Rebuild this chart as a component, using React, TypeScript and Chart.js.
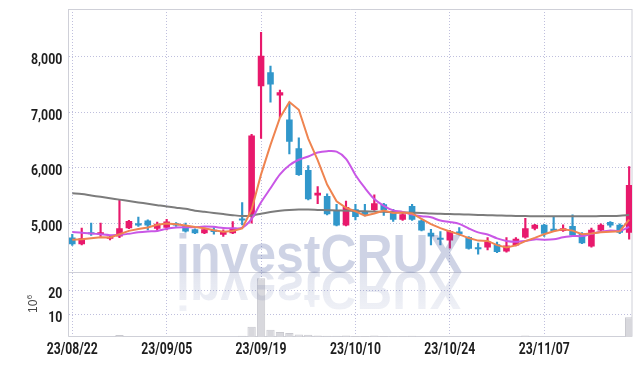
import React, { useEffect, useRef } from "react";
import { Chart, registerables } from "chart.js";

Chart.register(...registerables);

const dates = [
  "23/08/22", "23/08/23", "23/08/24", "23/08/25", "23/08/28", "23/08/29", "23/08/30", "23/08/31", "23/09/01", "23/09/04",
  "23/09/05", "23/09/06", "23/09/07", "23/09/08", "23/09/11", "23/09/12", "23/09/13", "23/09/14", "23/09/15", "23/09/18",
  "23/09/19", "23/09/20", "23/09/21", "23/09/22", "23/09/25", "23/09/26", "23/09/27", "23/10/04", "23/10/05", "23/10/06",
  "23/10/10", "23/10/11", "23/10/12", "23/10/13", "23/10/16", "23/10/17", "23/10/18", "23/10/19", "23/10/20", "23/10/23",
  "23/10/24", "23/10/25", "23/10/26", "23/10/27", "23/10/30", "23/10/31", "23/11/01", "23/11/02", "23/11/03", "23/11/06",
  "23/11/07", "23/11/08", "23/11/09", "23/11/10", "23/11/13", "23/11/14", "23/11/15", "23/11/16", "23/11/17", "23/11/20",
];

const opens = [
  4740, 4620, 4820, 4800, 4720, 4760, 4910, 5000, 5050, 4900,
  4920, 5000, 4960, 4890, 4820, 4880, 4790, 4820, 5075, 5120,
  7470, 7720, 7300, 6870, 6350, 5960, 5500, 5490, 5240, 4960,
  5250, 5210, 5240, 5340, 5210, 5060, 5310, 5050, 4830, 4720,
  4690, 4850, 4750, 4550, 4560, 4620, 4490, 4600, 4740, 4900,
  4970, 4900, 4860, 4950, 4810, 4580, 4870, 5020, 4970, 4830,
];
const highs = [
  4800, 4910, 5000, 5000, 4780, 5420, 5050, 5110, 5060, 5020,
  5070, 5010, 5000, 4900, 4910, 4920, 4880, 5030, 5370, 6600,
  8440, 7830, 7400, 7170, 6540, 6040, 5660, 5530, 5340, 5400,
  5340, 5340, 5510, 5360, 5250, 5180, 5340, 5060, 4890, 4850,
  4870, 4920, 4760, 4640, 4740, 4660, 4740, 4740, 5090, 4980,
  4980, 5110, 4970, 5150, 4830, 4910, 4990, 5030, 4990, 6020,
];
const lows = [
  4600, 4610, 4780, 4760, 4700, 4740, 4900, 4940, 4880, 4860,
  4880, 4940, 4840, 4810, 4810, 4800, 4760, 4810, 4970, 5000,
  6530, 7180, 6900, 6250, 5860, 5420, 5350, 5150, 4950, 4950,
  5060, 5130, 5230, 5140, 5030, 5050, 5050, 4860, 4610, 4610,
  4550, 4790, 4530, 4440, 4520, 4470, 4480, 4590, 4730, 4880,
  4760, 4850, 4850, 4770, 4630, 4570, 4860, 4930, 4810, 4710,
];
const closes = [
  4620, 4730, 4800, 4815, 4745, 4910, 5040, 4960, 4960, 4990,
  5030, 4960, 4850, 4820, 4890, 4840, 4840, 4910, 5050, 6580,
  8020, 7500, 7360, 6470, 5870, 5430, 5550, 5160, 4960, 5290,
  5110, 5150, 5360, 5240, 5060, 5160, 5060, 4870, 4760, 4700,
  4860, 4800, 4540, 4530, 4670, 4480, 4600, 4720, 4910, 4970,
  4810, 4860, 4910, 4780, 4640, 4880, 4970, 4960, 4830, 5690,
];

const ma5 = [
  4700, 4710, 4730, 4745, 4742, 4800, 4862, 4894, 4923, 4972,
  4996, 4980, 4958, 4930, 4910, 4872, 4848, 4860, 4906, 5244,
  5880, 6412, 6902, 7186, 7044, 6526, 6136, 5696, 5394, 5278,
  5214, 5134, 5174, 5230, 5184, 5194, 5176, 5078, 4982, 4910,
  4850, 4798, 4732, 4686, 4680, 4604, 4564, 4600, 4676, 4736,
  4802, 4854, 4892, 4866, 4800, 4814, 4836, 4846, 4856, 5066,
];
const ma10 = [
  4840, 4830, 4815, 4800, 4785, 4790, 4810, 4835, 4850, 4860,
  4900, 4921, 4926, 4927, 4941, 4934, 4914, 4909, 4918, 5077,
  5376, 5630, 5881, 6046, 6144, 6203, 6274, 6299, 6290, 6161,
  5870, 5635, 5435, 5312, 5231, 5204, 5155, 5126, 5106, 5047,
  5022, 4987, 4905, 4834, 4795, 4727, 4681, 4666, 4681, 4708,
  4703, 4709, 4746, 4771, 4768, 4808, 4845, 4869, 4861, 4933,
];
const maLong = [
  5540, 5525, 5500, 5475, 5450, 5425, 5400, 5375, 5350, 5325,
  5300, 5280, 5260, 5225, 5205, 5185, 5165, 5145, 5130, 5140,
  5170, 5200, 5225, 5240, 5245, 5245, 5240, 5235, 5230, 5225,
  5220, 5215, 5210, 5205, 5200, 5195, 5190, 5185, 5175, 5170,
  5165, 5160, 5155, 5150, 5145, 5140, 5135, 5130, 5128, 5125,
  5125, 5125, 5125, 5125, 5125, 5125, 5128, 5130, 5135, 5150,
];
const volumes = [
  0.4, 0.5, 0.3, 0.4, 0.3, 1.3, 0.6, 0.4, 0.4, 0.3,
  0.4, 0.3, 0.3, 0.3, 0.3, 0.3, 0.3, 0.4, 1.0, 4.8,
  25.0, 3.5, 2.6, 2.1, 1.5, 1.4, 1.1, 1.0, 1.0, 1.1,
  0.9, 0.9, 1.1, 0.9, 0.8, 0.8, 1.0, 0.7, 0.6, 0.5,
  0.6, 0.5, 0.6, 0.5, 0.5, 0.5, 0.5, 0.6, 1.1, 0.6,
  0.5, 0.6, 0.5, 0.5, 0.5, 0.6, 0.5, 0.5, 0.5, 8.7,
];

const xTicks = [0, 10, 20, 30, 40, 50];
const priceTicks = [5000, 6000, 7000, 8000];
const volumeTicks = [10, 20];

const RED = "#e8196c";
const BLUE = "#3197cb";
const ORANGE = "#ef8450";
const PURPLE = "#c957e6";
const GRAY = "#7c7c7c";
const GRID = "rgba(170,170,210,0.75)";
const FRAME = "#cfd0d8";
const LABEL_FONT = "'Roboto', 'Liberation Sans', sans-serif";

const fmt = (v: number) => v.toLocaleString("en-US");

const framePlugin = {
  id: "frame",
  beforeDatasetsDraw(chart: any) {
    const { ctx, chartArea } = chart;
    const sep = chart.scales.yv.top;
    ctx.save();
    ctx.strokeStyle = FRAME;
    ctx.lineWidth = 1;
    ctx.beginPath();
    ctx.moveTo(chartArea.left, chartArea.top + 0.5);
    ctx.lineTo(chartArea.right, chartArea.top + 0.5);
    ctx.moveTo(chartArea.left, chartArea.top);
    ctx.lineTo(chartArea.left, chartArea.bottom);
    ctx.moveTo(chartArea.right, chartArea.top);
    ctx.lineTo(chartArea.right, chartArea.bottom);
    ctx.moveTo(chartArea.left, Math.round(sep) + 0.5);
    ctx.lineTo(chartArea.right, Math.round(sep) + 0.5);
    ctx.moveTo(chartArea.left, Math.round(chartArea.bottom) - 0.5);
    ctx.lineTo(chartArea.right, Math.round(chartArea.bottom) - 0.5);
    ctx.stroke();
    ctx.restore();
  },
  afterDraw(chart: any) {
    const { ctx, scales } = chart;
    const drawText = (text: string, x: number, y: number, align: string, size: number, targetWidthRef: string, targetWidth: number) => {
      ctx.save();
      ctx.font = `bold ${size}px ${LABEL_FONT}`;
      const s = targetWidth / ctx.measureText(targetWidthRef).width;
      ctx.translate(x, y);
      ctx.scale(s, 1);
      ctx.textAlign = align;
      ctx.textBaseline = "alphabetic";
      ctx.fillStyle = "#1e1e1e";
      ctx.fillText(text, 0, 0);
      ctx.restore();
    };
    priceTicks.forEach((v) => {
      drawText(fmt(v), 62.3, scales.y.getPixelForValue(v) + 7.5, "right", 15, "8,000", 31.3);
    });
    volumeTicks.forEach((v) => {
      drawText(String(v), 62.3, scales.yv.getPixelForValue(v) + 7.5, "right", 15, "8,000", 31.3);
    });
    xTicks.forEach((v) => {
      drawText(dates[v], scales.x.getPixelForValue(v), 353.8, "center", 16.5, "23/08/22", 51);
    });

    ctx.save();
    ctx.fillStyle = "#444";
    ctx.translate(37, 313);
    ctx.rotate(-Math.PI / 2);
    ctx.textBaseline = "alphabetic";
    ctx.font = "12px 'Liberation Sans', sans-serif";
    ctx.fillText("10", 0, 0);
    const w = ctx.measureText("10").width;
    ctx.font = "8px 'Liberation Sans', sans-serif";
    ctx.fillText("6", w + 0.5, -5);
    ctx.restore();
  },
};

const watermarkPlugin = {
  id: "watermark",
  afterDatasetsDraw(chart: any) {
    const { ctx } = chart;
    const base = chart.scales.yv.top;
    const text = "investCRUX";
    ctx.save();
    ctx.font = "bold 54px 'Liberation Sans', Arial, sans-serif";
    const w = ctx.measureText(text).width;
    ctx.translate(176, base);
    ctx.scale(286 / w, 1);
    ctx.textBaseline = "alphabetic";
    ctx.fillStyle = "rgba(60,80,150,0.25)";
    ctx.fillText(text, 0, 0);
    ctx.scale(1, -1);
    const g = ctx.createLinearGradient(0, 0, 0, -44);
    g.addColorStop(0, "rgba(60,80,150,0.15)");
    g.addColorStop(1, "rgba(60,80,150,0.07)");
    ctx.fillStyle = g;
    ctx.fillText(text, 0, 0);
    ctx.restore();
  },
};

export default function App() {
  const ref = useRef<HTMLCanvasElement>(null);

  useEffect(() => {
    document.body.style.margin = "0";
    const canvas = ref.current!;
    const idx = dates.map((_, i) => i);
    const colors = idx.map((i) => (closes[i] >= opens[i] ? RED : BLUE));

    const lineDs = (label: string, values: number[], color: string, tension: number) => ({
      type: "line" as const,
      label,
      data: idx.map((i) => ({ x: i, y: values[i] })),
      borderColor: color,
      borderWidth: 2,
      pointRadius: 0,
      tension,
      yAxisID: "y",
      order: 0,
    });

    const chart = new Chart(canvas, {
      type: "bar",
      data: {
        datasets: [
          lineDs("MA5", ma5, ORANGE, 0),
          lineDs("MA10", ma10, PURPLE, 0.3),
          lineDs("MA", maLong, GRAY, 0.3),
          {
            type: "bar",
            label: "wick",
            data: idx.map((i) => ({ x: i, y: [lows[i], highs[i]] })) as any,
            backgroundColor: colors,
            barThickness: 1.5,
            grouped: false,
            yAxisID: "y",
            order: 2,
          },
          {
            type: "bar",
            label: "body",
            data: idx.map((i) => ({
              x: i,
              y: [Math.min(opens[i], closes[i]), Math.max(opens[i], closes[i])],
            })) as any,
            backgroundColor: colors,
            barPercentage: 0.7,
            categoryPercentage: 1,
            minBarLength: 2,
            grouped: false,
            yAxisID: "y",
            order: 1,
          },
          {
            type: "bar",
            label: "volume",
            data: idx.map((i) => ({ x: i, y: volumes[i] })) as any,
            backgroundColor: "#d8d8dd",
            borderColor: "#c9c9cf",
            borderWidth: 1,
            barPercentage: 0.88,
            categoryPercentage: 1,
            grouped: false,
            yAxisID: "yv",
            order: 3,
          },
        ],
      },
      options: {
        animation: false,
        responsive: false,
        maintainAspectRatio: false,
        layout: { padding: { top: 9, right: 10, left: 0, bottom: 0 } },
        plugins: { legend: { display: false }, tooltip: { enabled: false } },
        scales: {
          x: {
            type: "linear",
            offset: false,
            min: -0.4,
            max: 59.3,
            afterBuildTicks: (s: any) => {
              s.ticks = xTicks.map((v) => ({ value: v }));
            },
            afterFit: (s: any) => {
              s.height = 29.3;
            },
            ticks: { display: false },
            grid: { color: GRID, lineWidth: 1, drawTicks: false, offset: false },
            border: { display: false, dash: [1, 2] },
          },
          y: {
            type: "linear",
            position: "left",
            stack: "panes",
            stackWeight: 263,
            weight: 1,
            min: 4116,
            max: 8861,
            afterBuildTicks: (s: any) => {
              s.ticks = priceTicks.map((v) => ({ value: v }));
            },
            afterFit: (s: any) => {
              s.width = 68.5;
            },
            ticks: { display: false },
            grid: { color: GRID, lineWidth: 1, drawTicks: false },
            border: { display: false, dash: [1, 2] },
          },
          yv: {
            type: "linear",
            position: "left",
            stack: "panes",
            stackWeight: 64.4,
            weight: 0,
            min: 0.6,
            max: 27.5,
            afterBuildTicks: (s: any) => {
              s.ticks = volumeTicks.map((v) => ({ value: v }));
            },
            afterFit: (s: any) => {
              s.width = 68.5;
            },
            ticks: { display: false },
            grid: { color: GRID, lineWidth: 1, drawTicks: false },
            border: { display: false, dash: [1, 2] },
          },
        },
      } as any,
      plugins: [framePlugin, watermarkPlugin],
    });
    return () => chart.destroy();
  }, []);

  return (
    <div style={{ position: "fixed", left: 0, top: 0, width: 642, height: 366, background: "#fff" }}>
      <canvas ref={ref} width={642} height={366} style={{ width: 642, height: 366, display: "block" }} />
    </div>
  );
}
